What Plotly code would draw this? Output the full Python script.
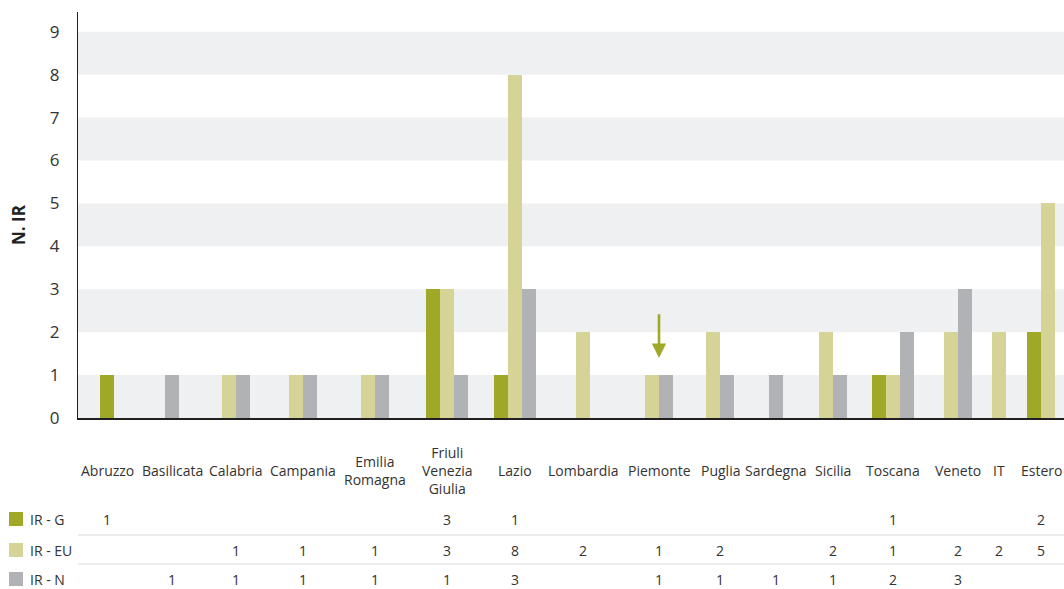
import plotly.graph_objects as go

# ---------------- data ----------------
categories = ["Abruzzo", "Basilicata", "Calabria", "Campania", "Emilia<br>Romagna",
              "Friuli<br>Venezia<br>Giulia", "Lazio", "Lombardia", "Piemonte", "Puglia",
              "Sardegna", "Sicilia", "Toscana", "Veneto", "IT", "Estero"]
series_names = ["IR - G", "IR - EU", "IR - N"]
ir_g = [1, 0, 0, 0, 0, 3, 1, 0, 0, 0, 0, 0, 1, 0, 0, 2]
ir_eu = [0, 0, 1, 1, 1, 3, 8, 2, 1, 2, 0, 2, 1, 2, 2, 5]
ir_n = [0, 1, 1, 1, 1, 1, 3, 0, 1, 1, 1, 1, 2, 3, 0, 0]
y_ticks = [0, 1, 2, 3, 4, 5, 6, 7, 8, 9]
y_title = "N. IR"

# ---------------- layout / style ----------------
colors = ["#a0a828", "#d5d396", "#b1b2b6"]
# table column centres (table layout, in pixel units of the x axis)
column_centers = [107, 172, 236, 303, 375, 447, 515, 583, 659, 720, 776, 833, 893, 958, 999, 1041]
bar_w = 13.8
W, H = 1064, 589
PL, PR, PT, PB = 78, 1064, 12, 418
y_max = 9.46
font = "Open Sans"
txt = "#333333"

def py(px):
    return (PB - px) / (PB - PT)

def pxx(px):
    return (px - PL) / (PR - PL)

series = [ir_g, ir_eu, ir_n]
fig = go.Figure()
for s_idx, (name, vals) in enumerate(zip(series_names, series)):
    xs, ys = [], []
    for c in range(len(categories)):
        present = [k for k in range(3) if series[k][c] > 0]
        if vals[c] > 0:
            i = present.index(s_idx)
            off = (i - (len(present) - 1) / 2) * bar_w
            xs.append(column_centers[c] + off)
            ys.append(vals[c])
    fig.add_trace(go.Bar(x=xs, y=ys, width=bar_w, name=name,
                         marker=dict(color=colors[s_idx], line=dict(width=0)),
                         showlegend=False, hoverinfo="y"))

shapes = []
for k in range(0, 9, 2):
    shapes.append(dict(type="rect", xref="paper", yref="y", x0=0, x1=1, y0=k, y1=k + 1,
                       fillcolor="#eff0f2", line=dict(width=0), layer="below"))
for ypx in [535, 564]:
    shapes.append(dict(type="line", xref="paper", yref="paper", x0=0, x1=1,
                       y0=py(ypx), y1=py(ypx), line=dict(color="#ececec", width=2)))

annotations = []
# category labels
for c, lab in enumerate(categories):
    annotations.append(dict(x=column_centers[c], y=py(470), xref="x", yref="paper",
                            text=lab, showarrow=False, xanchor="center", yanchor="middle",
                            font=dict(family=font, size=14, color=txt)))
row_y = [519, 550, 579]
for s_idx, vals in enumerate(series):
    ry = row_y[s_idx]
    # swatch
    shapes.append(dict(type="rect", xref="paper", yref="paper",
                       x0=pxx(9), x1=pxx(23), y0=py(ry + 7), y1=py(ry - 7),
                       fillcolor=colors[s_idx], line=dict(width=0)))
    annotations.append(dict(x=pxx(28), y=py(ry), xref="paper", yref="paper",
                            text=series_names[s_idx], showarrow=False, xanchor="left",
                            yanchor="middle", font=dict(family=font, size=14, color=txt)))
    for c, v in enumerate(vals):
        if v > 0:
            annotations.append(dict(x=column_centers[c], y=py(ry), xref="x", yref="paper",
                                    text=str(v), showarrow=False, xanchor="center",
                                    yanchor="middle", font=dict(family=font, size=14, color=txt)))
# y title
annotations.append(dict(x=pxx(18), y=py(225), xref="paper", yref="paper", text="<b>" + y_title + "</b>",
                        textangle=-90, showarrow=False, xanchor="center", yanchor="middle",
                        font=dict(family=font, size=17, color="#222222")))
# arrow at Piemonte
pie = categories.index("Piemonte")
annotations.append(dict(x=column_centers[pie], y=1.40, xref="x", yref="y",
                        ax=column_centers[pie], ay=2.45, axref="x", ayref="y",
                        text="", showarrow=True, arrowhead=2, arrowsize=1.1,
                        arrowwidth=2.6, arrowcolor="#a0a828", standoff=0))

fig.update_layout(
    width=W, height=H,
    margin=dict(l=PL, r=W - PR, t=PT, b=H - PB),
    paper_bgcolor="white", plot_bgcolor="white",
    barmode="overlay", bargap=0,
    shapes=shapes, annotations=annotations,
    xaxis=dict(range=[PL, PR], showticklabels=False, showgrid=False, zeroline=False,
               showline=True, linecolor="#231f20", linewidth=1.5, ticks=""),
    yaxis=dict(range=[0, y_max], tickvals=y_ticks, showgrid=False, zeroline=False,
               showline=True, linecolor="#231f20", linewidth=1.2, ticks="",
               ticklabelstandoff=14,
               tickfont=dict(family=font, size=17, color=txt)),
)
fig.write_html("out.html", config={"displayModeBar": False},
               post_script="document.body.style.margin='0';document.body.style.overflow='hidden';")
